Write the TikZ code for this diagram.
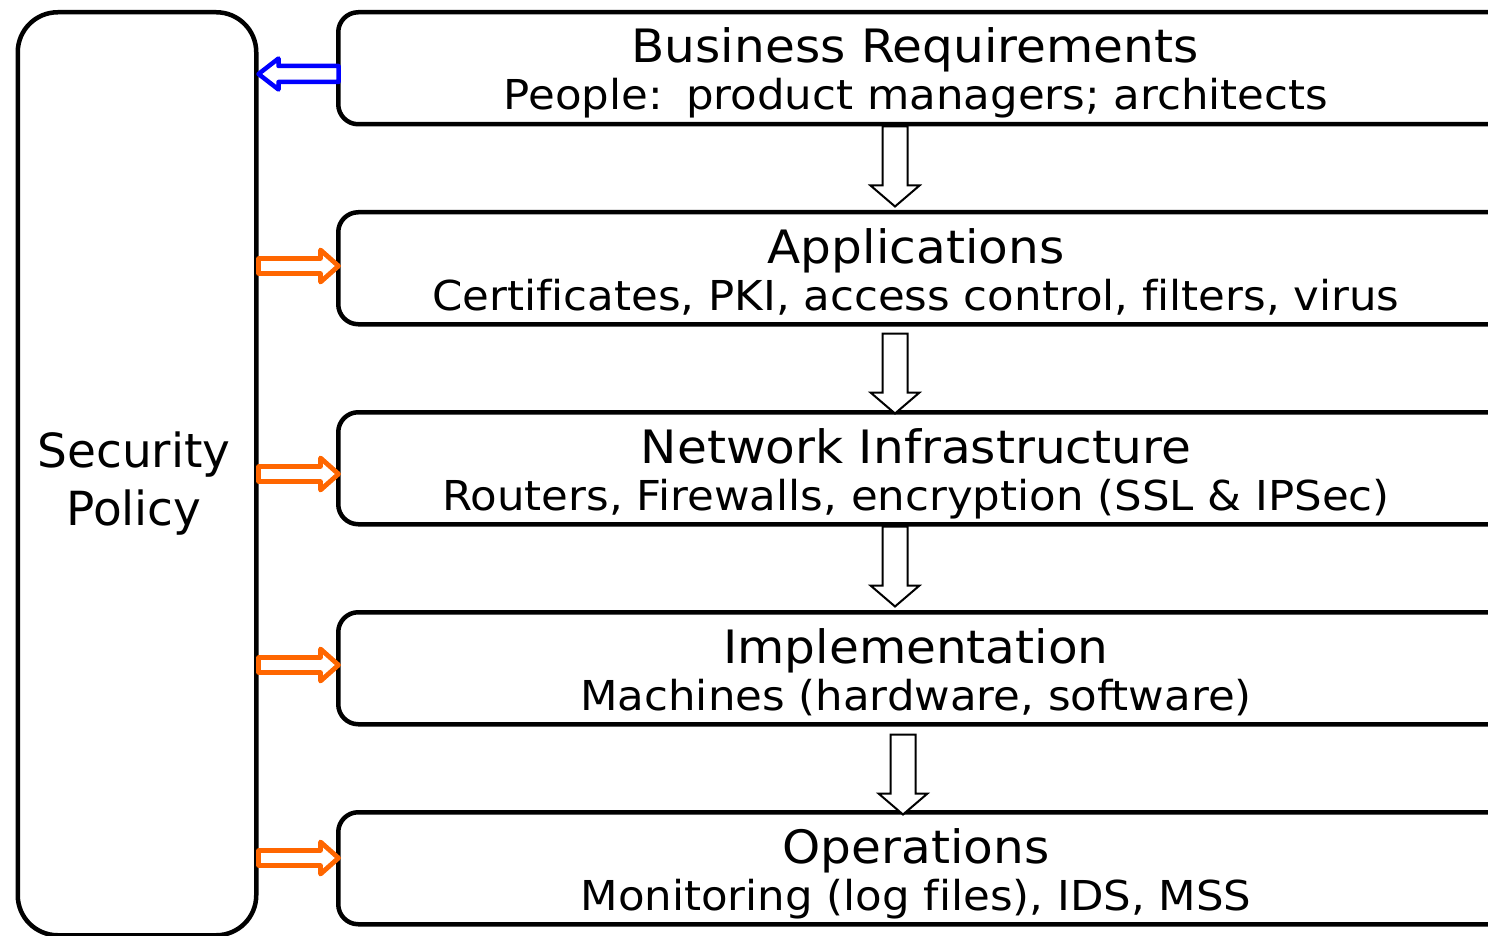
\documentclass[tikz,border=0pt]{standalone}
\usepackage{fontspec}
\setmainfont{DejaVu Sans}
\newfontfamily\widefont[FakeStretch=1.055,Ligatures=NoCommon]{DejaVu Sans}
\usetikzlibrary{calc}
\definecolor{feedorange}{HTML}{FF6600}
\definecolor{backblue}{HTML}{0000FF}
\begin{document}
\begin{tikzpicture}[x=1pt,y=-1pt,
  layer/.style={draw, line width=4.5pt, rounded corners=20pt, minimum width=1200pt,
    minimum height=112pt, inner sep=0pt, anchor=north west},
  policy/.style={draw, line width=4.5pt, rounded corners=40pt, minimum width=238.5pt,
    minimum height=923pt, inner sep=0pt, anchor=north west},
  ttl/.style={anchor=base, inner sep=0pt, font=\widefont\fontsize{46}{50}\selectfont},
  subttl/.style={anchor=base, inner sep=0pt, font=\widefont\fontsize{41.2}{46}\selectfont},
  pol/.style={align=center, inner sep=0pt, font=\fontsize{47}{58}\selectfont},
  flow/.style={draw=black, line width=2pt, fill=white, line join=miter},
  feed/.style={draw=feedorange, line width=4.8pt, fill=white, line join=round},
  back/.style={draw=backblue, line width=4.5pt, fill=white, line join=round},
  darr/.pic={\path[flow] (-12.5,0) -- (-12.5,59) -- (-24.5,59) -- (0,80) -- (24.5,59)
      -- (12.5,59) -- (12.5,0) -- cycle;},
  rarr/.pic={\path[feed] (0,-7.5) -- (62,-7.5) -- (62,-16) -- (80,0) -- (62,16) -- (62,7.5)
      -- (0,7.5) -- cycle;},
  larr/.pic={\path[back] (0,0) -- (20,-15.5) -- (20,-8) -- (80,-8) -- (80,8) -- (20,8)
      -- (20,15.5) -- cycle;}
]
\useasboundingbox (0,0) rectangle (1488,936);
\clip (0,0) rectangle (1488,936);

% security policy column
\node[policy] (sp) at (15.5,10) {};
\node[pol] (spt) at (134,484) {Security\\Policy};

% layers
\node[layer] (b1) at (336,10) {};
\node[layer] (b2) at (336,210) {};
\node[layer] (b3) at (336,410) {};
\node[layer] (b4) at (336,610) {};
\node[layer] (b5) at (336,810) {};

\node[ttl] (t1) at ($(b1.north west)+(579,53)$) {Business Requirements};
\node[subttl] (s1) at ($(b1.north west)+(580,100)$) {People:\hspace{0.12em} product managers; architects};
\node[ttl] (t2) at ($(b2.north west)+(580,53)$) {Applications};
\node[subttl] (s2) at ($(b2.north west)+(580,100)$) {Certificates, PKI, access control, filters, virus};
\node[ttl] (t3) at ($(b3.north west)+(580,53)$) {Network Infrastructure};
\node[subttl] (s3) at ($(b3.north west)+(580,100)$) {Routers, Firewalls, encryption (SSL \& IPSec)};
\node[ttl] (t4) at ($(b4.north west)+(580,53)$) {Implementation};
\node[subttl] (s4) at ($(b4.north west)+(580,100)$) {Machines (hardware, software)};
\node[ttl] (t5) at ($(b5.north west)+(580,53)$) {Operations};
\node[subttl] (s5) at ($(b5.north west)+(580,100)$) {Monitoring (log files), IDS, MSS};

% flow arrows
\coordinate (colA) at (895,0);
\coordinate (colB) at (903,0);
\pic at (b1.south -| colA) {darr};
\pic at ($(b2.south -| colA)+(0,7)$) {darr};
\pic at (b3.south -| colA) {darr};
\pic at ($(b4.south -| colB)+(0,8)$) {darr};

% policy feeds
\pic at ($(sp.north east)+(0,256)$) {rarr};
\pic at ($(sp.north east)+(0,464)$) {rarr};
\pic at ($(sp.north east)+(0,655)$) {rarr};
\pic at ($(sp.north east)+(0,848)$) {rarr};
\pic at ($(sp.north east)+(0,64)$) {larr};
\end{tikzpicture}
\end{document}
